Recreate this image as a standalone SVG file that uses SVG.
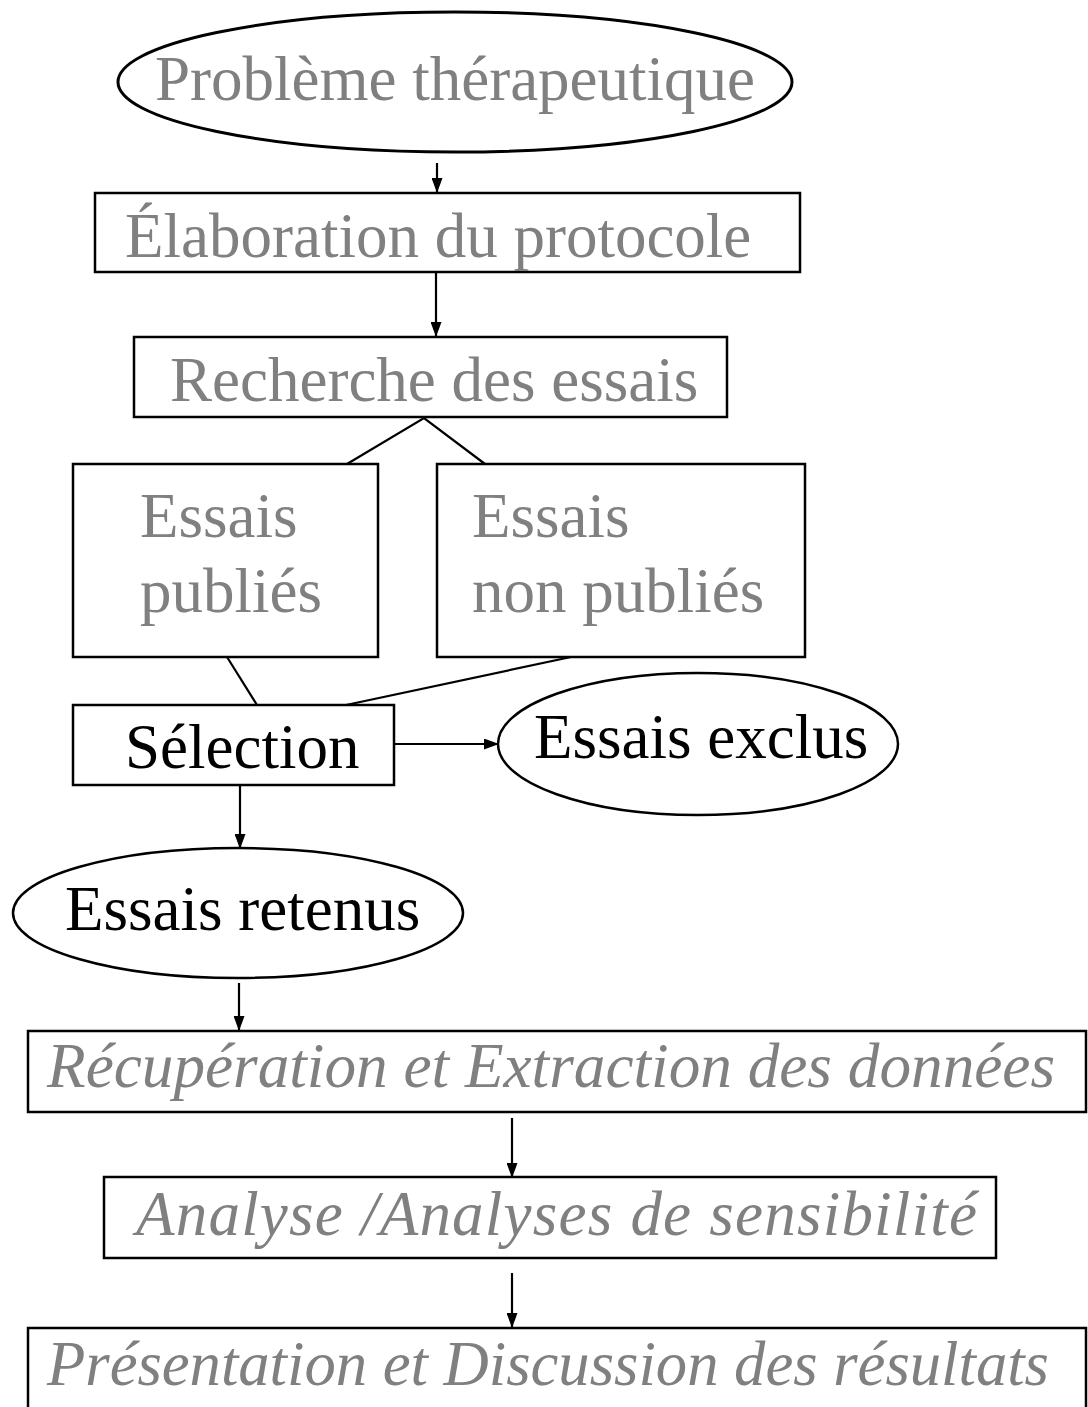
<svg xmlns="http://www.w3.org/2000/svg" width="1088" height="1407" viewBox="0 0 1088 1407">
<style>
.shape{fill:#fff;stroke:#000;stroke-width:2.5}
.ell{stroke-width:3}
.t{font-family:"Liberation Serif","Times New Roman",serif;font-size:63px}
.g{fill:#808080}
.k{fill:#000}
.i{font-style:italic}
.c{stroke:#000;stroke-width:2.2;fill:none}
</style>
<defs>
<marker id="ah" markerUnits="userSpaceOnUse" markerWidth="15" markerHeight="11" refX="15" refY="5.5" orient="auto">
<path d="M0,0 L15,5.5 L0,11 z" fill="#000"/>
</marker>
</defs>
<rect width="1088" height="1407" fill="#fff"/>
<g id="connectors">
<line class="c" x1="437" y1="163" x2="437" y2="193" marker-end="url(#ah)"/>
<line class="c" x1="436" y1="273" x2="436" y2="337" marker-end="url(#ah)"/>
<polyline class="c" points="347,464 424,418 485,464"/>
<line class="c" x1="227" y1="657" x2="257" y2="705"/>
<line class="c" x1="571" y1="657" x2="346" y2="705"/>
<line class="c" x1="395" y1="744" x2="499" y2="744" marker-end="url(#ah)"/>
<line class="c" x1="240" y1="786" x2="240" y2="849" marker-end="url(#ah)"/>
<line class="c" x1="239" y1="983" x2="239" y2="1031" marker-end="url(#ah)"/>
<line class="c" x1="512" y1="1118" x2="512" y2="1178" marker-end="url(#ah)"/>
<line class="c" x1="512" y1="1273" x2="512" y2="1328" marker-end="url(#ah)"/>
</g>
<g id="n-probleme">
<ellipse class="shape ell" cx="455" cy="82" rx="337" ry="70"/>
<text class="t g" x="155" y="100">Problème thérapeutique</text>
</g>
<g id="n-elaboration">
<rect class="shape" x="95" y="193" width="705" height="79"/>
<text class="t g" x="125" y="257">Élaboration du protocole</text>
</g>
<g id="n-recherche">
<rect class="shape" x="134" y="337" width="593" height="80"/>
<text class="t g" x="170" y="401">Recherche des essais</text>
</g>
<g id="n-publies">
<rect class="shape" x="73" y="464" width="305" height="193"/>
<text class="t g" x="140" y="537">Essais</text>
<text class="t g" x="140" y="612">publiés</text>
</g>
<g id="n-nonpublies">
<rect class="shape" x="437" y="464" width="368" height="193"/>
<text class="t g" x="472" y="537">Essais</text>
<text class="t g" x="472" y="612">non publiés</text>
</g>
<g id="n-selection">
<rect class="shape" x="73" y="705" width="321" height="80"/>
<text class="t k" x="125" y="768">Sélection</text>
</g>
<g id="n-exclus">
<ellipse class="shape" cx="698" cy="744" rx="200" ry="71"/>
<text class="t k" x="534" y="758">Essais exclus</text>
</g>
<g id="n-retenus">
<ellipse class="shape" cx="238" cy="913" rx="225" ry="65"/>
<text class="t k" x="65" y="930">Essais retenus</text>
</g>
<g id="n-recuperation">
<rect class="shape" x="28" y="1031" width="1058" height="81"/>
<text class="t g i" x="47" y="1087" textLength="1008" lengthAdjust="spacingAndGlyphs">Récupération et Extraction des données</text>
</g>
<g id="n-analyse">
<rect class="shape" x="104" y="1177" width="892" height="81"/>
<text class="t g i" x="136" y="1235" textLength="841" lengthAdjust="spacing">Analyse /Analyses de sensibilité</text>
</g>
<g id="n-presentation">
<rect class="shape" x="28" y="1328" width="1058" height="100"/>
<text class="t g i" x="47" y="1385" textLength="1002" lengthAdjust="spacingAndGlyphs">Présentation et Discussion des résultats</text>
</g>
</svg>
